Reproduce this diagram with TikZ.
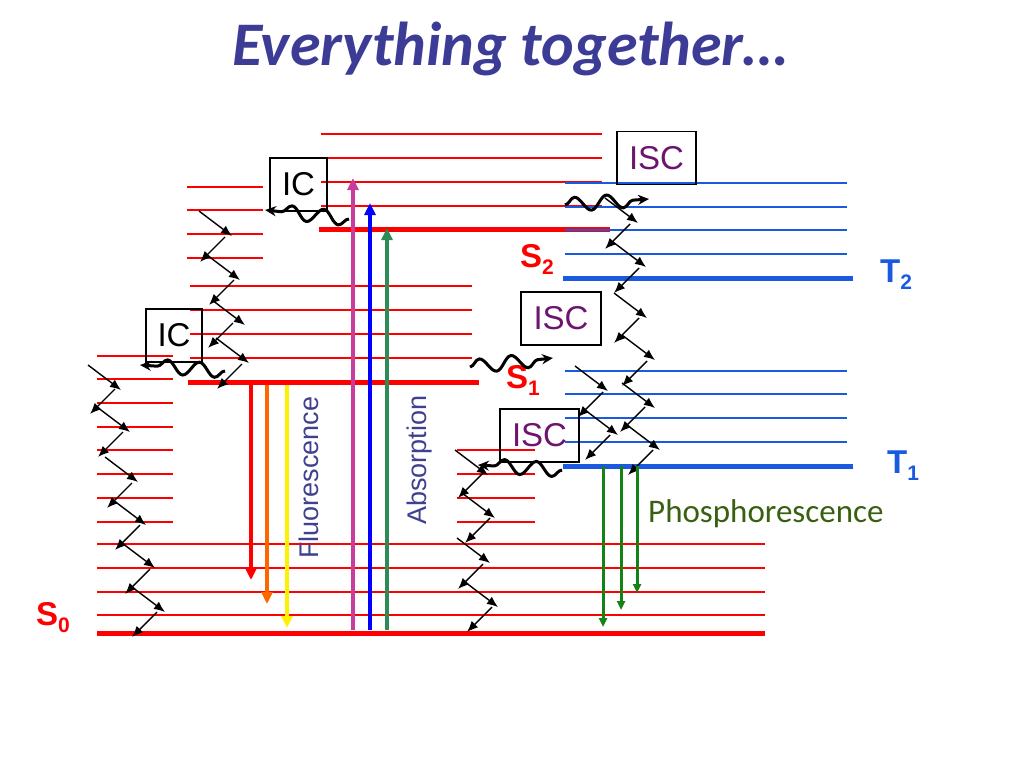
\documentclass[tikz,border=0pt]{standalone}
\usepackage{fontspec}
\setmainfont{Liberation Sans}
\newfontfamily\calibri{Carlito}
\usetikzlibrary{arrows.meta,decorations.pathmorphing}

\definecolor{tblue}{RGB}{25,90,225}
\definecolor{titleblue}{RGB}{60,60,150}
\definecolor{fluotext}{RGB}{64,64,145}
\definecolor{iscpurple}{RGB}{110,20,110}
\definecolor{phostext}{RGB}{56,96,16}
\definecolor{phosgreen}{RGB}{20,130,20}
\definecolor{absmagenta}{RGB}{200,60,155}
\definecolor{absgreen}{RGB}{46,139,87}
\definecolor{fluoorange}{RGB}{255,102,0}

\newcommand\levlab[2]{#1\raisebox{-7pt}{\fontsize{21}{21}\selectfont #2}}

\tikzset{
    lvl/.style={red,line width=2pt},
    lvlmain/.style={red,line width=5pt},
    tlvl/.style={tblue,line width=2pt},
    tlvlmain/.style={tblue,line width=5pt},
    vr/.style={line width=1.4pt,-{Latex[length=11pt,width=9pt]}},
    wave/.style={line width=3pt,decorate,
        decoration={snake,segment length=32pt,amplitude=7pt,post length=8pt},
        -{Stealth[length=11pt,width=10pt]}},
    box/.style={draw,line width=1.2pt,inner sep=0pt,minimum height=53pt,
        font=\fontsize{33}{35}\selectfont},
    rad/.style={line width=4pt,-{Triangle[length=12pt,width=11pt]}},
    phos/.style={phosgreen,line width=3pt,-{Triangle[length=9pt,width=8pt]}},
    lab/.style={font=\fontsize{33}{35}\selectfont\bfseries,anchor=base west,inner sep=0pt},
    side/.style={rotate=90,anchor=base west,inner sep=0pt,text=fluotext,
        font=\fontsize{27}{30}\selectfont},
}

\begin{document}
\begin{tikzpicture}[x=1pt,y=-1pt]
    \useasboundingbox (0,0) rectangle (1024,768);

    \node[anchor=base,inner sep=0pt,text=titleblue,
        font=\calibri\bfseries\itshape\fontsize{62}{68}\selectfont] (title) at (510,66) {Everything together…};

    % singlet levels
    \foreach \y in {356,379,403,427,450,474,498,522}{
        \draw[lvl] (97,\y) -- (173,\y);
    }
    \foreach \y in {450,474,498,522}{
        \draw[lvl] (457,\y) -- (535,\y);
    }
    \foreach \y in {544,568,592,615}{
        \draw[lvl] (97,\y) -- (765,\y);
    }
    \draw[lvlmain] (97,633) -- (765,633);

    \foreach \y in {187,210,234,258}{
        \draw[lvl] (187,\y) -- (263,\y);
    }
    \foreach \y in {286,310,334,358}{
        \draw[lvl] (190,\y) -- (472,\y);
    }
    \draw[lvlmain] (188,382) -- (479,382);

    \foreach \y in {134,158,182,206}{
        \draw[lvl] (321,\y) -- (602,\y);
    }
    \draw[lvlmain] (319,229) -- (610,229);

    % triplet levels
    \foreach \y in {183,207,230,254,371,394,418,442}{
        \draw[tlvl] (565,\y) -- (847,\y);
    }
    \draw[tlvlmain] (563,278) -- (853,278);
    \draw[tlvlmain] (563,466) -- (853,466);

    \node[lab,text=red] (s2) at (520,267) {\levlab{S}{2}};
    \node[lab,text=red] (s1) at (506,388) {\levlab{S}{1}};
    \node[lab,text=red] (s0) at (36,625) {\levlab{S}{0}};
    \node[lab,text=tblue] (t2) at (880,282) {\levlab{T}{2}};
    \node[lab,text=tblue] (t1) at (887,473) {\levlab{T}{1}};

    % vibrational relaxation
    \foreach \x/\y in {88/365,97/407,105/457,113/500,122/543,132/587,
        199/211,207/255,212/300,216/338,
        455/450,462/493,457/538,465/582,
        605/198,613/242,614/293,622/335,622/383,627/425,
        575/366,585/410}{
        \draw[vr] (\x,\y) -- ++(33,25);
    }
    \foreach \x/\y in {115/389,123/432,132/483,140/525,150/569,157/612,
        225/237,234/280,233/323,242/364,
        483/473,490/518,483/564,492/607,
        630/224,639/268,639/318,647/361,645/407,653/450,
        603/392,610/435}{
        \draw[vr] (\x,\y) -- ++(-25,25);
    }

    % radiative transitions
    \draw[rad,red] (251,385) -- (251,580);
    \draw[rad,fluoorange] (267,385) -- (267,604);
    \draw[rad,yellow] (287,385) -- (287,628);
    \draw[rad,absmagenta] (353,630) -- (353,178);
    \draw[rad,blue] (370,630) -- (370,203);
    \draw[rad,absgreen] (387,630) -- (387,228);
    \draw[phos] (603,466) -- (603,627);
    \draw[phos] (621,466) -- (621,610);
    \draw[phos] (637,466) -- (637,593);

    \node[side] (fluo) at (318,559) {Fluorescence};
    \node[side] (abso) at (426,525) {Absorption};
    \node[anchor=base west,inner sep=0pt,text=phostext,
        font=\calibri\fontsize{33}{36}\selectfont] (phostxt) at (648,522) {Phosphorescence};

    % crossings
    \node[box,minimum width=57pt] (ic1) at (298.5,184.5) {IC};
    \node[box,minimum width=56pt] (ic2) at (174,335.5) {IC};
    \node[box,minimum width=79pt,text=iscpurple] (isc1) at (656.5,158) {ISC};
    \node[box,minimum width=80pt,text=iscpurple] (isc2) at (561,318.5) {ISC};
    \node[box,minimum width=79pt,text=iscpurple] (isc3) at (539.5,435.5) {ISC};

    \draw[wave] (349,219) -- (265,210);
    \draw[wave] (225,371) -- (140,365);
    \draw[wave] (565,205) -- (649,199);
    \draw[wave] (470,367) -- (553,358);
    \draw[wave] (562,470) -- (478,465);
\end{tikzpicture}
\end{document}
